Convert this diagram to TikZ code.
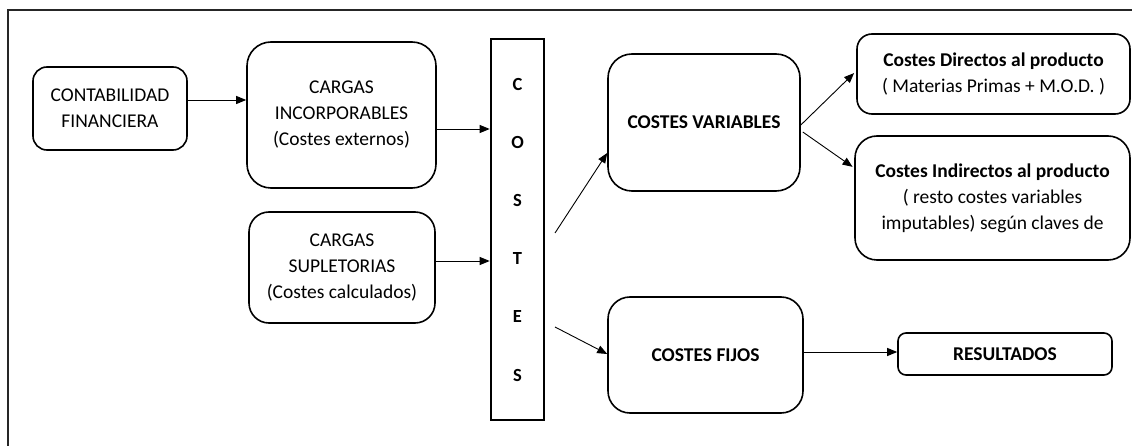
\documentclass[tikz,border=0pt]{standalone}
\usepackage{fontspec}
\setmainfont{Carlito}
\usetikzlibrary{arrows.meta}
\tikzset{
  box/.style={draw=black, line width=1.6pt, align=center, inner sep=0pt,
    font=\fontsize{19.5}{26}\selectfont},
  boldbox/.style={box, font=\fontsize{19.5}{26}\selectfont\bfseries},
  arr/.style={draw=black, line width=0.9pt, -{Triangle[length=10pt,width=8pt]}},
  frame/.style={draw=black!85, line width=1.6pt}
}
\begin{document}
\begin{tikzpicture}[x=1pt, y=-1pt]
\useasboundingbox (0,0) rectangle (1132,446);
% outer frame (only the top and left sides fall inside the page)
\draw[frame] (8,446) -- (8,10) -- (1132,10);

% left column
\node[box, minimum width=154, minimum height=83, rounded corners=14]
  (contab) at (110,108.5) {CONTABILIDAD\\FINANCIERA};
\node[box, minimum width=189, minimum height=146, rounded corners=24]
  (inc) at (341.5,115) {CARGAS\\INCORPORABLES\\(Costes externos)};
\node[box, minimum width=186, minimum height=111, rounded corners=20]
  (sup) at (342,267.5) {CARGAS\\SUPLETORIAS\\(Costes calculados)};

% vertical COSTES bar
\node[draw=black, line width=2.6pt, minimum width=53, minimum height=381,
  inner sep=0pt, align=center, font=\fontsize{18.5}{58.2}\selectfont\bfseries]
  (bar) at (517.5,229.5) {C\\O\\S\\T\\E\\S};

% middle column
\node[boldbox, minimum width=192, minimum height=137, rounded corners=24]
  (var) at (704,122.5) {COSTES VARIABLES};
\node[boldbox, minimum width=195, minimum height=116, rounded corners=22]
  (fij) at (705.5,355) {COSTES FIJOS};

% right column
\node[box, minimum width=273, minimum height=80, rounded corners=15]
  (dir) at (993.5,74) {\textbf{Costes Directos al producto}\\( Materias Primas + M.O.D. )};
\node[box, minimum width=275, minimum height=124, rounded corners=22]
  (ind) at (992.5,198) {\textbf{Costes Indirectos al producto}\\( resto costes variables\\imputables) según claves de};
\node[boldbox, minimum width=214, minimum height=42, rounded corners=8]
  (res) at (1005,354) {RESULTADOS};

% free starting points of the arrows leaving the bar
\coordinate (vstart) at (555,233);
\coordinate (fstart) at (555,327);

% connectors
\draw[arr] (contab.east |- 0,100) -- (inc.west |- 0,100);
\draw[arr] (inc.east |- 0,129) -- (bar.west |- 0,129);
\draw[arr] (sup.east |- 0,261) -- (bar.west |- 0,261);
\draw[arr] (vstart) -- (var.west |- 0,153);
\draw[arr] (fstart) -- (fij.west |- 0,354);
\draw[arr, shorten >=3pt] (var.east |- 0,125) -- (dir.west |- 0,71);
\draw[arr, shorten >=2pt] ([xshift=2pt]var.east |- 0,132) -- (ind.west |- 0,168);
\draw[arr] (fij.east |- 0,352) -- (res.west |- 0,352);
\end{tikzpicture}
\end{document}
